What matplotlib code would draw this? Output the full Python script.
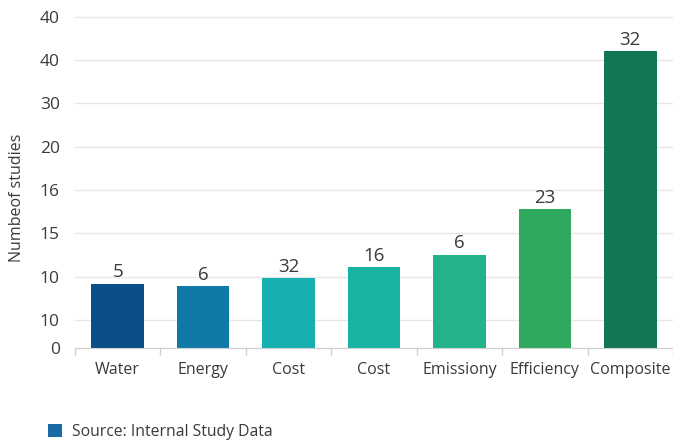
import matplotlib
matplotlib.use("Agg")
import matplotlib.pyplot as plt
from matplotlib.patches import Patch

plt.rcParams['font.family'] = ['Open Sans', 'DejaVu Sans']

# data (bar heights on the drawn scale, printed labels)
categories = ["Water", "Energy", "Cost", "Cost", "Emissiony", "Efficiency", "Composite"]
heights = [14.9, 14.3, 16.1, 18.6, 21.6, 32.0, 68.7]
value_labels = ["5", "6", "32", "16", "6", "23", "32"]
colors = ["#0b4f8a", "#0f79a8", "#17b0b0", "#19b3a4", "#22b38a", "#2fa95e", "#137552"]

# gridline positions and the (odd) tick labels printed on them
ytick_pos = [0, 6.5, 16.5, 26.5, 36.5, 46.5, 56.5, 66.5, 76.5]
ytick_labels = ["0", "10", "10", "15", "16", "20", "30", "40", "40"]

text_color = "#3a3a3a"

fig = plt.figure(figsize=(6.73, 4.46), dpi=100)
ax = fig.add_axes([0.1114, 0.2197, 0.8886, 0.762])

x = list(range(len(categories)))
bars = ax.bar(x, heights, width=0.615, color=colors, zorder=3)

for rect, lab in zip(bars, value_labels):
    ax.annotate(lab, (rect.get_x() + rect.get_width() / 2, rect.get_height()),
                xytext=(0, 1.5), textcoords="offset points",
                ha="center", va="bottom", fontsize=13.5, color=text_color)

ax.set_xlim(-0.5, len(categories) - 0.5)
ax.set_ylim(0, 78.5)

ax.set_yticks(ytick_pos)
ax.set_yticklabels(ytick_labels)
ax.set_xticks(x)
ax.set_xticklabels(categories)
ax.set_xticks([i - 0.5 for i in range(len(categories) + 1)], minor=True)

ax.tick_params(axis="y", length=0, pad=11, labelsize=12.5, labelcolor=text_color)
ax.tick_params(axis="x", which="major", length=0, pad=10, labelsize=11.5,
               labelcolor=text_color)
ax.tick_params(axis="x", which="minor", length=5, color="#cfcfcf", width=1)

ax.grid(axis="y", color="#e6e6e6", linewidth=1, zorder=0)
for side in ["top", "right", "left"]:
    ax.spines[side].set_visible(False)
ax.spines["bottom"].set_color("#cfcfcf")
ax.spines["bottom"].set_zorder(4)

fig.text(0.025, 0.556, "Numbeof studies", rotation=90, ha="center", va="center",
         fontsize=11.5, color=text_color)

handle = Patch(facecolor="#1a6aa6", edgecolor="none")
fig.legend([handle], ["Source: Internal Study Data"], loc="center left",
           bbox_to_anchor=(0.0713, 0.0325), frameon=False, fontsize=11.3,
           borderpad=0, borderaxespad=0,
           handlelength=0.9, handleheight=0.9, handletextpad=0.6,
           labelcolor=text_color)

fig.savefig("out.png", dpi=100)
